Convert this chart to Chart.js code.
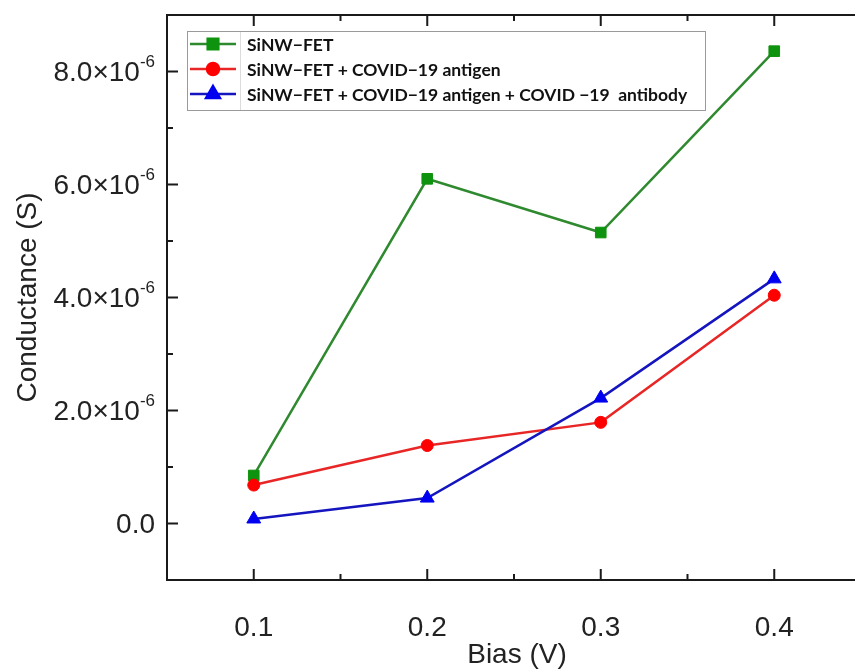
<!DOCTYPE html>
<html>
<head>
<meta charset="utf-8">
<title>Conductance vs Bias</title>
<script src="https://cdn.jsdelivr.net/npm/chart.js@4/dist/chart.umd.min.js"></script>
<style>
    html, body { margin: 0; padding: 0; background: #fff; overflow: hidden; }
    #wrap { width: 855px; height: 671px; overflow: hidden; }
    canvas { display: block; }
</style>
</head>
<body>
<div id="wrap">
    <canvas id="conductanceChart" width="870" height="671"></canvas>
</div>
<script>
// Bias sweep (V) and measured conductance (S) for each device state
const biasV = [0.1, 0.2, 0.3, 0.4];
const sinwFet = [0.85e-6, 6.10e-6, 5.15e-6, 8.36e-6];
const sinwAntigen = [0.68e-6, 1.38e-6, 1.79e-6, 4.04e-6];
const sinwAntibody = [0.08e-6, 0.45e-6, 2.22e-6, 4.33e-6];

const seriesNames = [
    'SiNW\u2212FET',
    'SiNW\u2212FET + COVID\u221219 antigen',
    'SiNW\u2212FET + COVID\u221219 antigen + COVID \u221219  antibody'
];

// Axis ticks
const xMajorTicks = [0.1, 0.2, 0.3, 0.4];
const xMinorTicks = [0.15, 0.25, 0.35];
const xTickLabels = ['0.1', '0.2', '0.3', '0.4'];
const yMajorTicks = [0, 2e-6, 4e-6, 6e-6, 8e-6];
const yMinorTicks = [1e-6, 3e-6, 5e-6, 7e-6];
const yTickMantissas = ['0.0', '2.0', '4.0', '6.0', '8.0'];
const yTickExponent = '-6';

document.addEventListener('DOMContentLoaded', () => {
    const ctx = document.getElementById('conductanceChart').getContext('2d');
    const toPoints = (ys) => biasV.map((b, i) => ({ x: b, y: ys[i] }));

    const tickFont = '28px "Liberation Sans", Arial, sans-serif';
    const supFont = '17px "Liberation Sans", Arial, sans-serif';

    // Origin-style boxed axes: frame, inward ticks, labels, titles
    const framePlugin = {
        id: 'frameAxes',
        afterDraw(chart) {
            const c = chart.ctx;
            const a = chart.chartArea;
            const xs = chart.scales.x;
            const ys = chart.scales.y;
            c.save();
            c.strokeStyle = '#1a1a1a';
            c.lineWidth = 2;
            c.strokeRect(a.left, a.top, a.right - a.left, a.bottom - a.top);

            c.beginPath();
            xMajorTicks.forEach(v => {
                const px = xs.getPixelForValue(v);
                c.moveTo(px, a.bottom); c.lineTo(px, a.bottom - 11);
                c.moveTo(px, a.top); c.lineTo(px, a.top + 11);
            });
            xMinorTicks.forEach(v => {
                const px = xs.getPixelForValue(v);
                c.moveTo(px, a.bottom); c.lineTo(px, a.bottom - 6);
                c.moveTo(px, a.top); c.lineTo(px, a.top + 6);
            });
            yMajorTicks.forEach(v => {
                const py = ys.getPixelForValue(v);
                c.moveTo(a.left, py); c.lineTo(a.left + 11, py);
            });
            yMinorTicks.forEach(v => {
                const py = ys.getPixelForValue(v);
                c.moveTo(a.left, py); c.lineTo(a.left + 6, py);
            });
            c.stroke();

            c.fillStyle = '#222';
            // x tick labels
            c.font = tickFont;
            c.textAlign = 'center';
            c.textBaseline = 'middle';
            xMajorTicks.forEach((v, i) => {
                c.fillText(xTickLabels[i], xs.getPixelForValue(v), a.bottom + 48);
            });

            // y tick labels with superscript exponent
            c.textAlign = 'right';
            const rightEdge = a.left - 12;
            yMajorTicks.forEach((v, i) => {
                const py = ys.getPixelForValue(v) + 2;
                if (v === 0) {
                    c.font = tickFont;
                    c.fillText(yTickMantissas[i], rightEdge, py);
                    return;
                }
                c.font = supFont;
                const supW = c.measureText(yTickExponent).width;
                c.fillText(yTickExponent, rightEdge, py - 11);
                c.font = tickFont;
                c.fillText(yTickMantissas[i] + '\u00d710', rightEdge - supW, py);
            });

            // axis titles
            c.font = tickFont;
            c.textAlign = 'center';
            c.fillText('Bias (V)', (a.left + 855) / 2 + 6, a.bottom + 75);
            c.save();
            c.translate(28, (a.top + a.bottom) / 2);
            c.rotate(-Math.PI / 2);
            c.fillText('Conductance (S)', 0, 0);
            c.restore();

            // legend box
            const box = { left: 187, top: 31, right: 705, bottom: 110 };
            c.fillStyle = '#fff';
            c.fillRect(box.left, box.top, box.right - box.left, box.bottom - box.top);
            c.strokeStyle = '#9a9a9a';
            c.lineWidth = 1;
            c.strokeRect(box.left + 0.5, box.top + 0.5, box.right - box.left, box.bottom - box.top);
            c.strokeStyle = '#dcdcdc';
            c.beginPath();
            c.moveTo(240.5, box.top + 1); c.lineTo(240.5, box.bottom);
            c.stroke();

            chart.data.datasets.forEach((ds, i) => {
                const rowY = 44 + 25 * i;
                c.strokeStyle = ds.borderColor;
                c.lineWidth = 2.5;
                c.beginPath();
                c.moveTo(190, rowY); c.lineTo(236, rowY);
                c.stroke();
                c.fillStyle = ds.pointBackgroundColor;
                c.strokeStyle = ds.pointBorderColor;
                Chart.helpers.drawPoint(c, {
                    pointStyle: ds.pointStyle,
                    radius: ds.pointRadius,
                    rotation: 0,
                    borderWidth: 1
                }, 213, rowY);
                c.fillStyle = '#111';
                c.font = 'bold 17.5px Lato, "Open Sans", sans-serif';
                c.textAlign = 'left';
                c.textBaseline = 'middle';
                c.fillText(seriesNames[i], 247, rowY + 1);
            });
            c.restore();
        }
    };

    new Chart(ctx, {
        type: 'line',
        data: {
            datasets: [{
                label: seriesNames[0],
                data: toPoints(sinwFet),
                borderColor: '#2f8a2f',
                borderWidth: 2.5,
                pointStyle: 'rect',
                pointRadius: 7.5,
                pointBackgroundColor: '#0e930e',
                pointBorderColor: '#0e930e',
                pointBorderWidth: 1,
                order: 2
            }, {
                label: seriesNames[1],
                data: toPoints(sinwAntigen),
                borderColor: '#e82626',
                borderWidth: 2.5,
                pointStyle: 'circle',
                pointRadius: 6,
                pointBackgroundColor: '#ff0000',
                pointBorderColor: '#ff0000',
                pointBorderWidth: 1,
                order: 1
            }, {
                label: seriesNames[2],
                data: toPoints(sinwAntibody),
                borderColor: '#1515c0',
                borderWidth: 2.5,
                pointStyle: 'triangle',
                pointRadius: 8,
                pointBackgroundColor: '#0000f0',
                pointBorderColor: '#0000f0',
                pointBorderWidth: 1,
                order: 0
            }]
        },
        options: {
            responsive: false,
            animation: false,
            devicePixelRatio: 1,
            layout: { padding: { left: 167, top: 15, right: 3, bottom: 91 } },
            plugins: {
                legend: { display: false },
                tooltip: { enabled: false }
            },
            elements: { line: { tension: 0 } },
            scales: {
                x: { type: 'linear', min: 0.05, max: 0.45, display: false },
                y: { type: 'linear', min: -1e-6, max: 9e-6, display: false }
            }
        },
        plugins: [framePlugin]
    });
});
</script>
</body>
</html>
